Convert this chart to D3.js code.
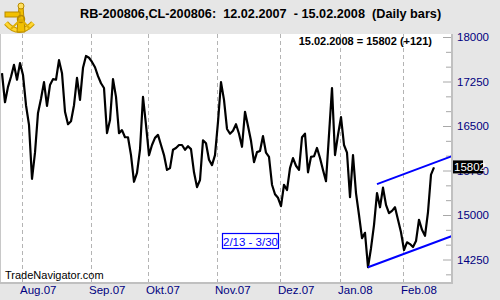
<!DOCTYPE html>
<html><head><meta charset="utf-8">
<script src="https://cdn.jsdelivr.net/npm/d3@7/dist/d3.min.js"></script>
<style>
body{margin:0;background:#e6e6e6;}
svg{display:block;font-family:Arial,"Liberation Sans",sans-serif;}
</style>
</head><body>
<svg id="c" width="500" height="300"></svg>
<script>
// ---- data ----
const closes = [
17390,16900,17160,17330,17530,17280,17560,17360,16850,16520,
15610,16050,16720,16960,17240,16840,17190,17290,17280,17610,
17390,16740,16530,16580,16850,17310,16940,17480,17680,17650,
17580,17490,17340,17220,17140,16380,16600,17290,16990,16380,
16430,16310,16310,16010,15560,15710,16100,16990,16520,16010,
16180,16300,16350,16180,16010,15760,15790,16100,16130,16180,
16180,16100,16160,16110,15720,15470,15590,16260,16210,15930,
15840,16010,16570,17240,16940,16450,16370,16420,16530,16370,
16150,16740,16500,16250,15890,16060,16080,16330,16050,15980,
15510,15350,15290,15150,15510,15420,15790,15960,15830,15760,
16310,16370,15720,15980,15990,16130,15960,15760,15570,16350,
17140,16010,16350,16650,16180,16050,15300,16010,15370,15000,
14610,14700,14120,14440,14830,15370,15130,15460,15170,15030,
15070,15130,14920,14710,14410,14540,14510,14460,14560,14920,
14750,14650,15050,15681,15802
];
const monthLabels = ["Aug.07","Sep.07","Okt.07","Nov.07","Dez.07","Jan.08","Feb.08"];
const monthStartIndex = [7,30,49,72,93,113,134];
const yMajorTicks = [14250,15000,15750,16500,17250,18000];
const yMinorTicks = [14000,14500,14750,15250,15500,16000,16250,16750,17000,17500,17750];
const channelUpper = [[125,15520],[150,15993]];
const channelLower = [[122,14120],[150,14646]];
const lastValue = 15802;
const titleText = "RB-200806,CL-200806:  12.02.2007  - 15.02.2008  (Daily bars)";
const lastLabel = "15.02.2008 = 15802 (+121)";
const rangeLabel = "2/13 - 3/30";
const siteLabel = "TradeNavigator.com";

// ---- layout ----
const P = {left:1, top:34, right:451, bottom:282};
const svg = d3.select("#c");
const x = d3.scaleLinear().domain([0,144]).range([2,434]);
const y = d3.scaleLinear().domain([14250,18000]).range([259.5,37]);

svg.append("rect").attr("width",500).attr("height",300).attr("fill","#e6e6e6");
svg.append("rect").attr("x",P.left).attr("y",P.top)
  .attr("width",P.right-P.left).attr("height",P.bottom-P.top).attr("fill","#fff");

svg.append("clipPath").attr("id","plotclip").append("rect")
  .attr("x",P.left).attr("y",P.top).attr("width",P.right-P.left).attr("height",P.bottom-P.top);

// gridlines
svg.append("g").selectAll("line").data(monthStartIndex).join("line")
  .attr("x1",d=>Math.round(x(d)-1.5)+0.5).attr("x2",d=>Math.round(x(d)-1.5)+0.5)
  .attr("y1",P.top).attr("y2",P.bottom)
  .attr("stroke","#b4b4b4").attr("stroke-width",1).attr("stroke-dasharray","4,3");

// month labels
svg.append("g").selectAll("text").data(monthStartIndex).join("text")
  .attr("x",d=>x(d)-3).attr("y",294)
  .attr("font-size",11.5).attr("fill","#000080")
  .text((d,i)=>monthLabels[i]);

// y axis (ticks inside plot, labels right)
const axMajor = d3.axisRight(y).tickValues(yMajorTicks).tickSizeInner(-8).tickSizeOuter(0).tickPadding(6).tickFormat(d3.format("d"));
const gMaj = svg.append("g").attr("transform",`translate(${P.right},0)`).call(axMajor);
gMaj.select(".domain").remove();
gMaj.selectAll("line").attr("stroke","#a8a8a8");
gMaj.selectAll("text").attr("font-size",11.5).attr("fill","#000080").attr("font-family","Arial,'Liberation Sans',sans-serif");
const axMinor = d3.axisRight(y).tickValues(yMinorTicks).tickSizeInner(-5).tickSizeOuter(0).tickFormat("");
const gMin = svg.append("g").attr("transform",`translate(${P.right},0)`).call(axMinor);
gMin.select(".domain").remove();
gMin.selectAll("line").attr("stroke","#a8a8a8");

// borders
svg.append("line").attr("x1",P.right+1).attr("x2",P.right+1).attr("y1",P.top).attr("y2",P.bottom+2)
  .attr("stroke","#c0c0c0").attr("stroke-width",2);
svg.append("line").attr("x1",0).attr("x2",P.right+2).attr("y1",P.bottom+1).attr("y2",P.bottom+1)
  .attr("stroke","#c0c0c0").attr("stroke-width",2);
svg.append("line").attr("x1",0.5).attr("x2",0.5).attr("y1",P.top).attr("y2",P.bottom)
  .attr("stroke","#c8c8c8").attr("stroke-width",1);

// price line
const plot = svg.append("g").attr("clip-path","url(#plotclip)");
plot.append("path").datum(closes)
  .attr("d",d3.line().x((d,i)=>x(i)).y(d=>y(d)))
  .attr("fill","none").attr("stroke","#000").attr("stroke-width",2.2).attr("stroke-linejoin","round");

// channel lines
[channelUpper, channelLower].forEach(c=>{
  plot.append("path").datum(c)
    .attr("d",d3.line().x(d=>x(d[0])).y(d=>y(d[1])))
    .attr("fill","none").attr("stroke","#0000ff").attr("stroke-width",2);
});

// range label box
const rb = svg.append("g");
rb.append("rect").attr("x",222.5).attr("y",233.5).attr("width",56).attr("height",15)
  .attr("fill","#fff").attr("stroke","#0000ff").attr("stroke-width",1.2);
rb.append("text").attr("x",250.5).attr("y",245.5).attr("text-anchor","middle")
  .attr("font-size",11.5).attr("fill","#0000ff").text(rangeLabel);

// site label
svg.append("text").attr("x",5).attr("y",279).attr("font-size",11).attr("fill","#000").text(siteLabel);

// last value label
svg.append("text").attr("x",432).attr("y",45).attr("text-anchor","end")
  .attr("font-size",11).attr("font-weight","bold").attr("fill","#000").text(lastLabel);

// last value marker on axis
const ly = y(lastValue);
svg.append("rect").attr("x",453).attr("y",ly-7).attr("width",30).attr("height",13).attr("fill","#000");
svg.append("text").attr("x",454).attr("y",ly+4).attr("font-size",11.5).attr("fill","#fff").text(d3.format("d")(lastValue));

// header
svg.append("text").attr("x",80).attr("y",18).attr("font-size",12.7).attr("font-weight","bold")
  .attr("fill","#000").style("white-space","pre").text(titleText);

// logo (sextant)
const lg = svg.append("g").attr("transform","translate(3,2)");
lg.append("path").attr("d","M3,21 Q16,36 30,21").attr("fill","none").attr("stroke","#c89a00").attr("stroke-width",5);
lg.append("path").attr("d","M3,21 Q16,36 30,21").attr("fill","none").attr("stroke","#ffd630").attr("stroke-width",3);
lg.append("path").attr("d","M16,4 L20,4 L22,30 L14,30 Z").attr("fill","#f2c000").attr("stroke","#b88a00").attr("stroke-width",1);
lg.append("rect").attr("x",2).attr("y",10).attr("width",15).attr("height",5).attr("fill","#f2c000").attr("stroke","#b88a00").attr("stroke-width",1);
lg.append("circle").attr("cx",18).attr("cy",4).attr("r",3).attr("fill","#ffe060").attr("stroke","#b88a00");
lg.append("circle").attr("cx",18).attr("cy",17).attr("r",3.5).attr("fill","none").attr("stroke","#b88a00").attr("stroke-width",1.5);
lg.append("line").attr("x1",18).attr("y1",17).attr("x2",8).attr("y2",27).attr("stroke","#e0b000").attr("stroke-width",2);
lg.append("line").attr("x1",18).attr("y1",17).attr("x2",27).attr("y2",27).attr("stroke","#e0b000").attr("stroke-width",2);
</script>
</body></html>
